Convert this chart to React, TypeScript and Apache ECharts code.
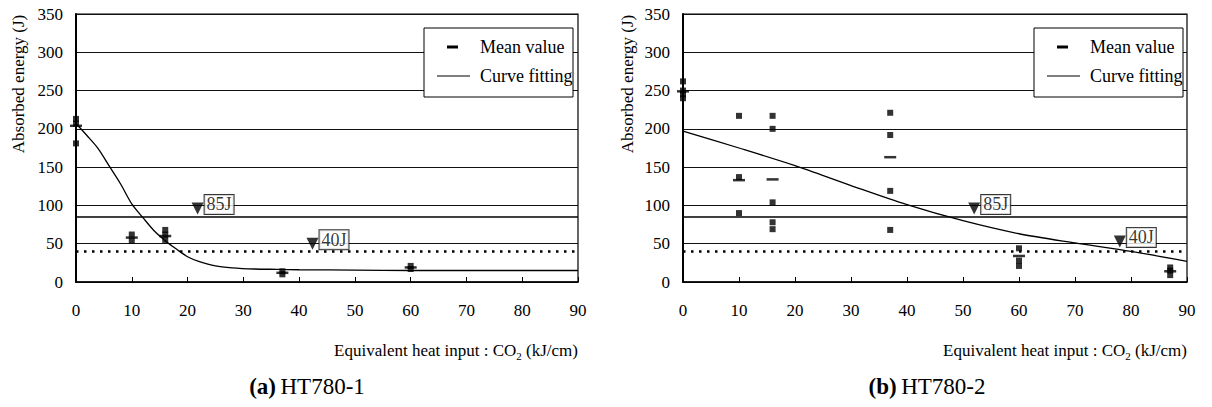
import React, { useEffect, useRef } from "react";
import * as echarts from "echarts";

const FONT = "Liberation Serif";
const INK = "#000";

// Axis settings
const X_MIN = 0;
const X_MAX = 90;
const X_STEP = 10;
const Y_MIN = 0;
const Y_MAX = 350;
const Y_STEP = 50;

// Reference levels (J)
const REF_SOLID = 85;
const REF_DOTTED = 40;

// (a) HT780-1 — individual specimens
const aPointX = [0, 0, 0, 10, 10, 16, 16, 16, 37, 37, 60, 60];
const aPointY = [213, 207, 181, 62, 54, 68, 62, 55, 14, 10, 21, 17];
// (a) mean values
const aMeanX = [0, 10, 16, 37, 60];
const aMeanY = [204, 58, 60, 12, 19];
// (a) curve fitting
const aFitX = [0, 2, 4, 6, 8, 10, 12, 14, 16, 18, 20, 22, 25, 28, 32, 36, 40, 50, 60, 70, 80, 90];
const aFitY = [207, 191, 174, 151, 128, 102, 84, 67, 54, 43, 33, 27, 21, 18.5, 17, 16.5, 16, 15.5, 15, 15, 15, 15];
// (a) required-energy markers
const aMarkX = [21.8, 42.4];
const aMarkY = [96, 50];
const aMarkLabel = ["85J", "40J"];

// (b) HT780-2 — individual specimens
const bPointX = [0, 0, 0, 0, 10, 10, 10, 16, 16, 16, 16, 16, 37, 37, 37, 37, 60, 60, 60, 87, 87, 87];
const bPointY = [262, 250, 245, 240, 217, 137, 90, 217, 200, 104, 78, 69, 221, 192, 119, 68, 44, 28, 21, 19, 15, 9];
// (b) mean values
const bMeanX = [0, 10, 16, 37, 60, 87];
const bMeanY = [249, 133, 134, 163, 34, 14];
// (b) curve fitting
const bFitX = [0, 10, 20, 30, 40, 50, 60, 70, 80, 90];
const bFitY = [197, 175, 152, 126, 101, 80, 63, 51, 40, 27];
// (b) required-energy markers
const bMarkX = [52, 78];
const bMarkY = [96, 53];
const bMarkLabel = ["85J", "40J"];

const X_NAME = "{t|Equivalent heat input : CO}{s|2}{t| (kJ/cm)}";
const Y_NAME = "Absorbed energy (J)";
const LEGEND_MEAN = "Mean value";
const LEGEND_FIT = "Curve fitting";
const CAPTIONS = [
  { tag: "(a)", name: "HT780-1" },
  { tag: "(b)", name: "HT780-2" },
];

function zip(xs: number[], ys: number[]) {
  return xs.map((x, i) => [x, ys[i]]);
}

function makeSeries(
  idx: number,
  pointX: number[],
  pointY: number[],
  meanX: number[],
  meanY: number[],
  fitX: number[],
  fitY: number[],
  markX: number[],
  markY: number[],
  markLabel: string[]
) {
  return [
    {
      type: "line",
      name: LEGEND_FIT,
      xAxisIndex: idx,
      yAxisIndex: idx,
      data: zip(fitX, fitY),
      smooth: 0.3,
      showSymbol: false,
      symbol: "none",
      lineStyle: { color: INK, width: 1.3 },
      z: 3,
      markLine: {
        silent: true,
        symbol: "none",
        label: { show: false },
        data: [
          { yAxis: REF_SOLID, lineStyle: { color: INK, type: "solid", width: 1.6 } },
          { yAxis: REF_DOTTED, lineStyle: { color: INK, type: [2.5, 5.5], width: 2.5 } },
        ],
      },
    },
    {
      type: "scatter",
      name: "Specimen",
      xAxisIndex: idx,
      yAxisIndex: idx,
      data: zip(pointX, pointY),
      symbol: "rect",
      symbolSize: 6,
      itemStyle: { color: INK },
      z: 4,
    },
    {
      type: "scatter",
      name: LEGEND_MEAN,
      xAxisIndex: idx,
      yAxisIndex: idx,
      data: zip(meanX, meanY),
      symbol: "rect",
      symbolSize: [12, 2.5],
      itemStyle: { color: INK },
      z: 4,
    },
    {
      type: "scatter",
      name: "Requirement",
      xAxisIndex: idx,
      yAxisIndex: idx,
      data: markX.map((x, i) => ({ value: [x, markY[i]], name: markLabel[i] })),
      symbol: "triangle",
      symbolRotate: 180,
      symbolSize: [12, 12],
      itemStyle: { color: INK },
      z: 6,
      label: {
        show: true,
        position: "right",
        distance: 1,
        offset: [0, -4],
        formatter: "{b}",
        fontFamily: FONT,
        fontSize: 18,
        color: INK,
        backgroundColor: "#fff",
        borderColor: INK,
        borderWidth: 1,
        padding: [1, 2, 0, 2],
      },
    },
  ];
}

function makeXAxis(idx: number) {
  return {
    type: "value",
    gridIndex: idx,
    min: X_MIN,
    max: X_MAX,
    interval: X_STEP,
    name: X_NAME,
    nameLocation: "end",
    nameGap: 0,
    nameTextStyle: {
      fontFamily: FONT,
      align: "right",
      verticalAlign: "top",
      padding: [57, 0, 0, 0],
      rich: {
        t: { fontFamily: FONT, fontSize: 17, color: INK, lineHeight: 22 },
        s: { fontFamily: FONT, fontSize: 11, color: INK, lineHeight: 11, verticalAlign: "bottom" },
      },
    },
    axisLine: { show: true, onZero: false, lineStyle: { color: INK, width: 1.5 } },
    axisTick: { show: true, inside: true, length: 5, lineStyle: { color: INK, width: 1 } },
    axisLabel: { fontFamily: FONT, fontSize: 17, color: INK, margin: 20 },
    splitLine: { show: false },
  };
}

function makeYAxis(idx: number) {
  return {
    type: "value",
    gridIndex: idx,
    min: Y_MIN,
    max: Y_MAX,
    interval: Y_STEP,
    axisLine: { show: true, lineStyle: { color: INK, width: 2 } },
    axisTick: { show: false },
    axisLabel: { fontFamily: FONT, fontSize: 17, color: INK, margin: 13 },
    splitLine: { show: true, lineStyle: { color: "#111", width: 1 } },
  };
}

function legendGraphic(boxLeft: number) {
  const top = 28;
  return [
    {
      type: "rect",
      z: 100,
      shape: { x: boxLeft, y: top, width: 149, height: 69 },
      style: { fill: "#fff", stroke: INK, lineWidth: 1 },
    },
    {
      type: "rect",
      z: 101,
      shape: { x: boxLeft + 23, y: top + 17.5, width: 11, height: 3 },
      style: { fill: INK },
    },
    {
      type: "line",
      z: 101,
      shape: { x1: boxLeft + 13, y1: top + 48, x2: boxLeft + 46, y2: top + 48 },
      style: { stroke: INK, lineWidth: 1 },
    },
    {
      type: "text",
      z: 101,
      x: boxLeft + 56,
      y: top + 19,
      style: { text: LEGEND_MEAN, font: "18px " + FONT, fill: INK, align: "left", verticalAlign: "middle" },
    },
    {
      type: "text",
      z: 101,
      x: boxLeft + 56,
      y: top + 48,
      style: { text: LEGEND_FIT, font: "18px " + FONT, fill: INK, align: "left", verticalAlign: "middle" },
    },
  ];
}

function yNameGraphic(x: number) {
  return {
    type: "text",
    z: 100,
    x,
    y: 84,
    rotation: Math.PI / 2,
    style: { text: Y_NAME, font: "17px " + FONT, fill: INK, align: "center", verticalAlign: "middle" },
  };
}

export default function App() {
  const ref = useRef<HTMLDivElement>(null);

  useEffect(() => {
    if (!ref.current) return;
    const chart = echarts.init(ref.current, null, { renderer: "svg" });
    const captionRich = {
      b: { fontFamily: FONT, fontSize: 23, fontWeight: "bold", color: INK },
      n: { fontFamily: FONT, fontSize: 23, fontWeight: "normal", color: INK },
    };
    chart.setOption({
      animation: false,
      backgroundColor: "#fff",
      textStyle: { fontFamily: FONT },
      title: [
        {
          text: `{b|${CAPTIONS[0].tag}} {n|${CAPTIONS[0].name}}`,
          left: 307,
          top: 375,
          padding: 0,
          textAlign: "center",
          textStyle: { fontFamily: FONT, fontWeight: "normal", rich: captionRich },
        },
        {
          text: `{b|${CAPTIONS[1].tag}} {n|${CAPTIONS[1].name}}`,
          left: 927,
          top: 375,
          padding: 0,
          textAlign: "center",
          textStyle: { fontFamily: FONT, fontWeight: "normal", rich: captionRich },
        },
      ],
      grid: [
        { left: 76, top: 14, width: 502, height: 268, show: true, borderColor: INK, borderWidth: 1.2, backgroundColor: "transparent" },
        { left: 683, top: 14, width: 504, height: 268, show: true, borderColor: INK, borderWidth: 1.2, backgroundColor: "transparent" },
      ],
      xAxis: [makeXAxis(0), makeXAxis(1)],
      yAxis: [makeYAxis(0), makeYAxis(1)],
      series: [
        ...makeSeries(0, aPointX, aPointY, aMeanX, aMeanY, aFitX, aFitY, aMarkX, aMarkY, aMarkLabel),
        ...makeSeries(1, bPointX, bPointY, bMeanX, bMeanY, bFitX, bFitY, bMarkX, bMarkY, bMarkLabel),
      ],
      graphic: [
        ...legendGraphic(424),
        ...legendGraphic(1034),
        yNameGraphic(18),
        yNameGraphic(627),
      ],
    });
    return () => chart.dispose();
  }, []);

  return (
    <div
      ref={ref}
      style={{ position: "fixed", left: 0, top: 0, width: 1212, height: 407, background: "#fff" }}
    />
  );
}
